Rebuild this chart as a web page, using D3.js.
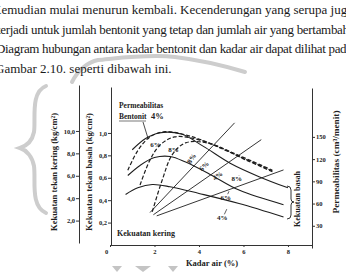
<!DOCTYPE html>
<html>
<head>
<meta charset="utf-8">
<script src="https://cdn.jsdelivr.net/npm/d3@7"></script>
<style>
  body { margin: 0; background: #fff; }
  svg text { font-family: "Liberation Serif", "DejaVu Serif", serif; }
  .tick text { font-weight: bold; font-size: 6.5px; fill: #222; }
  .domain, .tick line { stroke: #333; }
</style>
</head>
<body>
<div id="chart"></div>
<script>
// paragraph above the figure
var paraLines = [
    "Kemudian mulai menurun kembali. Kecenderungan yang serupa juga",
    "terjadi untuk jumlah bentonit yang tetap dan jumlah air yang bertambah.",
    "Diagram hubungan antara kadar bentonit dan kadar air dapat dilihat pada",
    "Gambar 2.10. seperti dibawah ini."
];

// kekuatan tekan basah (kg/cm2) vs kadar air (%)
var waterB4 = [0.7, 1.25, 1.9, 2.7, 4.0, 5.8, 7.8];
var basah4 = [0.45, 0.51, 0.54, 0.52, 0.46, 0.37, 0.25];
var waterB6 = [0.8, 1.35, 2.0, 2.7, 3.4, 4.5, 5.8, 7.8];
var basah6 = [0.62, 0.71, 0.78, 0.79, 0.74, 0.63, 0.49, 0.36];
var waterB8 = [1.0, 1.6, 2.2, 3.2, 4.2, 5.4, 6.7, 8.0];
var basah8 = [0.85, 0.95, 1.0, 0.99, 0.88, 0.73, 0.61, 0.51];

// permeabilitas (cm3/menit)
var waterP4 = [0.8, 1.26, 1.8, 2.47, 3.6, 5.4, 7.3];
var perm4 = [105, 132, 150, 157, 151, 130, 105];
var waterP6 = [1.35, 1.8, 2.25, 2.9, 4.0, 5.85, 7.3];
var perm6 = [85, 119, 139, 150, 146, 123, 104];
var waterP8 = [1.9, 2.35, 2.8, 3.4, 4.5, 6.1, 7.3];
var perm8 = [49, 92, 126, 142, 141, 119, 103];

// kekuatan tekan kering (kg/cm2), straight lines
var waterK8 = [1.8, 5.6];
var kering8 = [2.9, 10.9];
var waterK6 = [1.95, 6.8];
var kering6 = [2.7, 9.4];
var waterK4 = [2.1, 7.8];
var kering4 = [2.6, 6.7];

var bentonit = ["4%", "6%", "8%"];

var keringTicks = [2, 4, 6, 8, 10];
var basahTicks = [0.2, 0.4, 0.6, 0.8, 1.0];
var permTicks = [30, 60, 90, 120, 150];
var waterTicks = [0, 2, 4, 6, 8];

var svgWidth = 346;
var svgHeight = 272;

var svg = d3.select("#chart")
    .append("svg")
    .attr("width", svgWidth)
    .attr("height", svgHeight)
    .attr("font-family", "Liberation Serif, DejaVu Serif, serif");

// faint watermark from the scan
var wm = svg.append("g")
    .attr("fill", "none")
    .attr("stroke", "#cdcdcd")
    .attr("stroke-width", 4)
    .attr("stroke-linecap", "round");
wm.append("path").attr("d", "M46,86 C30,92 36,120 34,132 C32,142 26,146 20,148 C26,150 32,156 34,166 C36,180 30,206 46,213");
wm.append("path").attr("d", "M72,82 C78,70 88,62 98,60 C120,58 150,54 175,57 C200,60 225,66 245,72");
[117, 143, 173].forEach(function (cx, i) {
    var w = i == 1 ? 8 : 5;
    svg.append("path")
        .attr("d", `M${cx - w},266 L${cx + w},266 L${cx},272 Z`)
        .attr("fill", "#c4c4c4");
});

// paragraph
var para = svg.append("g")
    .style("font-size", "13px")
    .attr("fill", "#1a1a1a");
var paraX = [-8, -3, -4, -5];
var paraEnd = [353, 352, 352, null];
paraLines.forEach(function (t, i) {
    var txt = para.append("text")
        .attr("x", paraX[i])
        .attr("y", 14 + i * 19.6)
        .text(t);
    if (paraEnd[i]) {
        txt.attr("textLength", paraEnd[i] - paraX[i])
            .attr("lengthAdjust", "spacing");
    }
});

// scales
var xScale = d3.scaleLinear().domain([0, 9.08]).range([110, 312]);
var yBasah = d3.scaleLinear().domain([0, 1.41]).range([245, 87]);
var yKering = d3.scaleLinear().domain([0, 14.1]).range([245, 87]);
var yPerm = d3.scaleLinear().domain([0, 216]).range([248, 88]);

// axes
svg.append("g")
    .attr("transform", "translate(79,-2)")
    .call(d3.axisLeft(yKering).tickValues(keringTicks).tickSize(3).tickSizeOuter(0).tickPadding(1)
        .tickFormat(d => d3.format(".1f")(d).replace(".", ",")));

svg.append("g")
    .attr("transform", "translate(111,0)")
    .call(d3.axisLeft(yBasah).tickValues(basahTicks).tickSize(3).tickSizeOuter(0).tickPadding(1)
        .tickFormat(d => d3.format(".1f")(d).replace(".", ",")));

svg.append("g")
    .attr("transform", "translate(312,0)")
    .call(d3.axisRight(yPerm).tickValues(permTicks).tickSize(3).tickSizeOuter(0).tickPadding(1));

var xAxis = svg.append("g")
    .attr("transform", "translate(0,245)")
    .call(d3.axisBottom(xScale).tickValues(waterTicks).tickSize(2).tickSizeOuter(0).tickPadding(2));
xAxis.selectAll(".tick text").filter(d => d == 0).attr("dx", -4);

svg.selectAll(".domain").attr("stroke-width", 1);

// axis titles
function vText(x, y, t, size, len) {
    var el = svg.append("text")
        .attr("transform", `translate(${x},${y}) rotate(-90)`)
        .attr("text-anchor", "middle")
        .style("font-size", size + "px")
        .style("font-weight", "bold")
        .attr("fill", "#222")
        .text(t);
    if (len) el.attr("textLength", len).attr("lengthAdjust", "spacingAndGlyphs");
    return el;
}
vText(57, 172, "Kekuatan tekan kering (kg/cm²)", 8, 118);
vText(92, 172, "Kekuatan tekan basah (kg/cm²)", 8, 118);
vText(339, 162, "Permeabilitas (cm³/menit)", 8, 103);
vText(300, 199, "Kekuatan basah", 8, 56);

svg.append("text")
    .attr("x", 212)
    .attr("y", 266)
    .attr("text-anchor", "middle")
    .style("font-size", "8.5px")
    .style("font-weight", "bold")
    .attr("fill", "#222")
    .text("Kadar air (%)");

// curves
var line = d3.line().curve(d3.curveCatmullRom.alpha(0.5));
function pts(xs, ys, yScale) {
    return xs.map((v, i) => [xScale(v), yScale(ys[i])]);
}

var plot = svg.append("g").attr("fill", "none").attr("stroke", "#1e1e1e");

[[waterB4, basah4], [waterB6, basah6], [waterB8, basah8]].forEach(function (s) {
    plot.append("path")
        .attr("d", line(pts(s[0], s[1], yBasah)))
        .attr("stroke-width", 1.1);
});

[[waterP4, perm4], [waterP6, perm6], [waterP8, perm8]].forEach(function (s) {
    plot.append("path")
        .attr("d", line(pts(s[0], s[1], yPerm)))
        .attr("stroke-width", 1.2)
        .attr("stroke-dasharray", "4,2");
});

[[waterK4, kering4], [waterK6, kering6], [waterK8, kering8]].forEach(function (s) {
    plot.append("path")
        .attr("d", d3.line()(pts(s[0], s[1], yKering)))
        .attr("stroke-width", 0.9);
});

// curve labels
var labels = svg.append("g")
    .style("font-size", "7px")
    .style("font-weight", "bold")
    .attr("fill", "#222")
    .attr("text-anchor", "middle");

// permeabilitas labels
labels.append("text").attr("x", xScale(2.05)).attr("y", yPerm(136)).text(bentonit[1]);
labels.append("text").attr("x", xScale(2.85)).attr("y", yPerm(129)).text(bentonit[2]);

// kering labels, along the lines
[[3.75, 7.6, bentonit[2], -55], [4.3, 6.9, bentonit[1], -45], [4.9, 6.0, bentonit[0], -35]].forEach(function (l) {
    labels.append("text")
        .attr("transform", `translate(${xScale(l[0])},${yKering(l[1])}) rotate(${l[3]})`)
        .text(l[2]);
});

// basah labels with short leaders
[[5.7, 0.57, bentonit[2], 5.8, 0.62], [5.2, 0.40, bentonit[1], 5.35, 0.48], [5.05, 0.22, bentonit[0], 5.25, 0.32]].forEach(function (l) {
    labels.append("text").attr("x", xScale(l[0])).attr("y", yBasah(l[1])).text(l[2]);
    plot.append("line")
        .attr("x1", xScale(l[0]) + 2).attr("y1", yBasah(l[1]) - 6)
        .attr("x2", xScale(l[3])).attr("y2", yBasah(l[4]))
        .attr("stroke-width", 0.7);
});

// brace for kekuatan basah
plot.append("path")
    .attr("d", "M287,186 Q291,186 291,190 L291,199 Q291,202 294,202 Q291,202 291,205 L291,215 Q291,219 287,219")
    .attr("stroke-width", 0.9);

// Permeabilitas Bentonit 4% note
var note = svg.append("g")
    .style("font-size", "7.5px")
    .style("font-weight", "bold")
    .attr("fill", "#222");
note.append("text").attr("x", 119).attr("y", 108).text("Permeabilitas");
note.append("text").attr("x", 119).attr("y", 119).text("Bentonit");
note.append("text").attr("x", 151).attr("y", 119).style("font-size", "8.5px").text("4%");
plot.append("line").attr("x1", 119).attr("y1", 121).attr("x2", 146).attr("y2", 121).attr("stroke-width", 0.6);
plot.append("line").attr("x1", 143).attr("y1", 122).attr("x2", xScale(1.72)).attr("y2", yPerm(147)).attr("stroke-width", 0.8);

svg.append("text")
    .attr("x", 117)
    .attr("y", 236)
    .style("font-size", "8px")
    .style("font-weight", "bold")
    .attr("fill", "#222")
    .text("Kekuatan kering");
</script>
</body>
</html>
